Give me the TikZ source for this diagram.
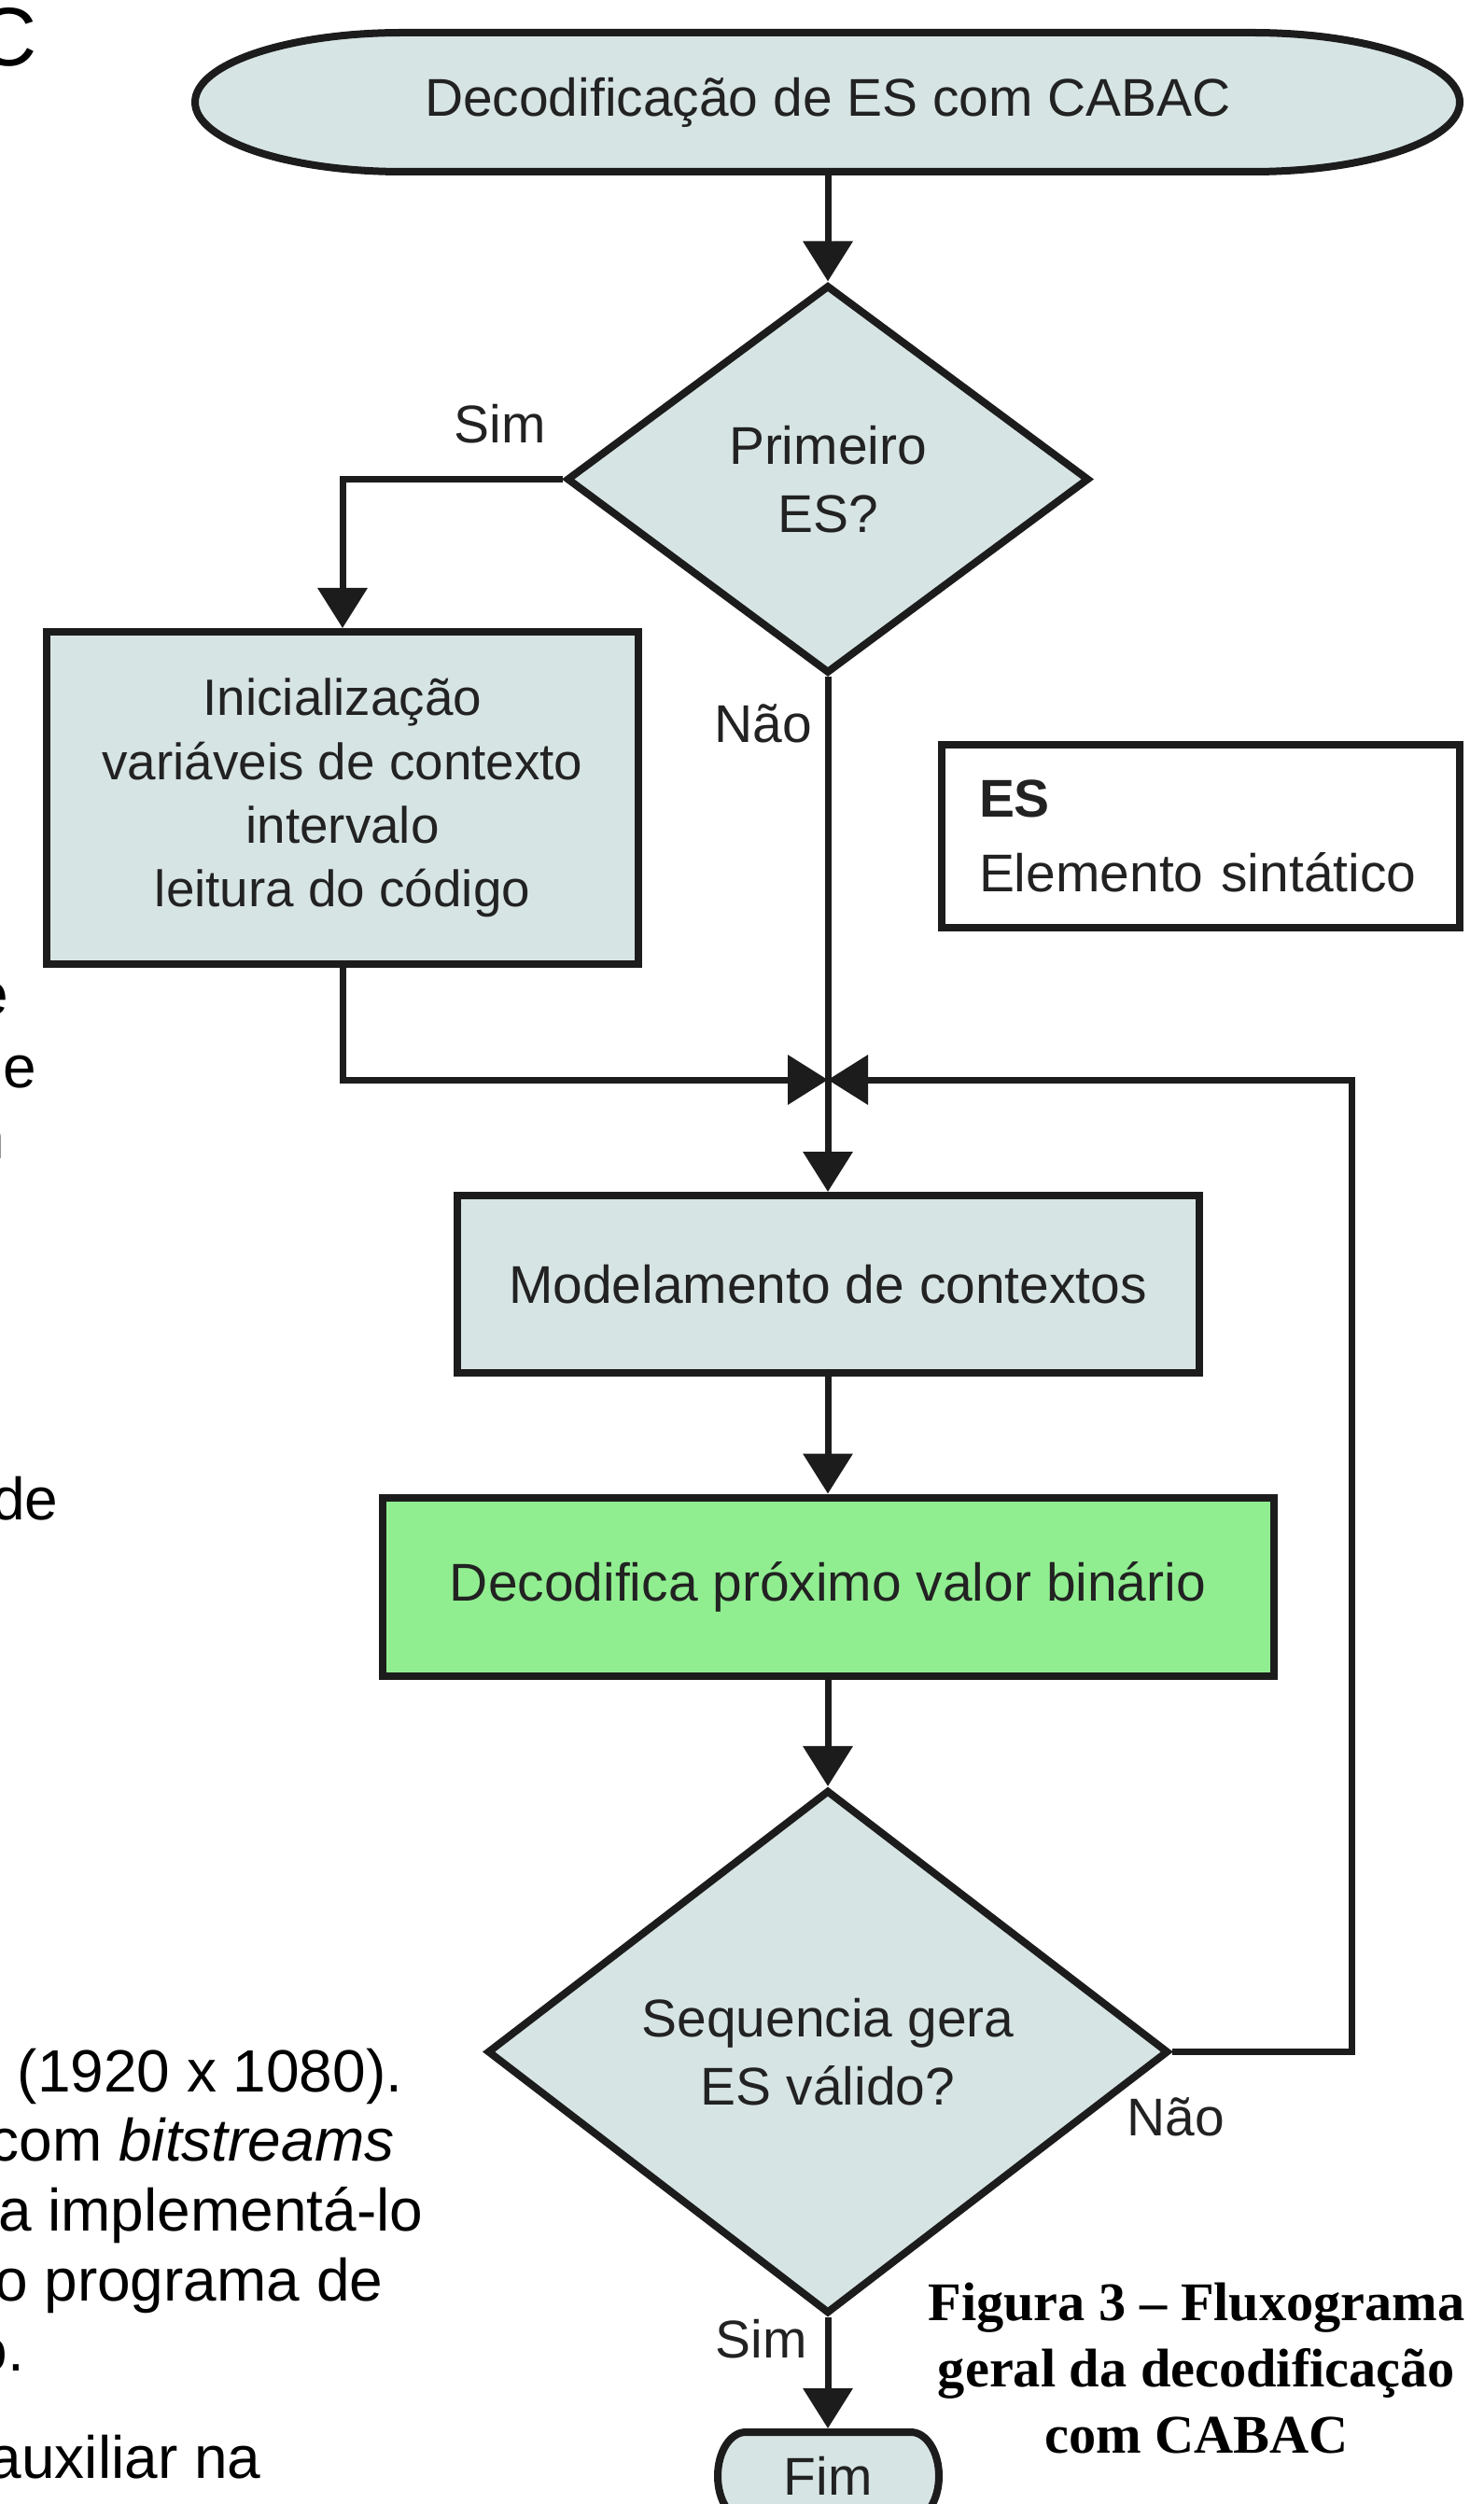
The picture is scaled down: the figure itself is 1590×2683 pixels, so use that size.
\documentclass[tikz,border=0pt]{standalone}
\usepackage{fontspec}
\setmainfont{Liberation Sans}
\newfontfamily\captionfont{Liberation Serif}
\usetikzlibrary{shapes.geometric,arrows.meta}

\definecolor{cellfill}{HTML}{D7E4E4}
\definecolor{binfill}{HTML}{90EE90}
\definecolor{inkline}{HTML}{1C1C1C}
\definecolor{inktext}{HTML}{222222}

\tikzset{
  block/.style={draw=inkline, line width=0.8mm, fill=cellfill, inner sep=0pt, outer sep=0.4mm,
    align=center, text=inktext, font=\fontsize{16.2}{19.4}\selectfont},
  question/.style={block, diamond, font=\fontsize{16.2}{20.8}\selectfont},
  outline/.style={draw=inkline, line width=0.8mm, fill=cellfill},
  flowline/.style={draw=inkline, line width=0.7mm, -{Triangle[length=4.3mm,width=5.2mm]}},
  answer/.style={text=inktext, inner sep=0pt, font=\fontsize{16.2}{19.4}\selectfont},
  pagetext/.style={anchor=base east, inner sep=0pt, font=\fontsize{18.2}{22}\selectfont}
}

\begin{document}
\begin{tikzpicture}[x=0.1mm, y=-0.1mm]
    \useasboundingbox (0,0) rectangle (1590,2683);
    \clip (0,0) rectangle (1590,2683);
    % text of the page, cut at the left edge
    \node [pagetext, font=\fontsize{25.3}{30}\selectfont] (head) at (40,71) {C};
    \node [pagetext] (frag1) at (10,1087) {e};
    \node [pagetext] (frag2) at (40,1165) {ie};
    \node [pagetext] (frag3) at (6,1241) {n};
    \node [pagetext] (frag4) at (63,1628) {de};
    \node [pagetext] (frag5) at (432,2241) {(1920 x 1080).};
    \node [pagetext] (frag6) at (423,2315) {com \textit{bitstreams}};
    \node [pagetext] (frag7) at (454,2390) {a implementá-lo};
    \node [pagetext] (frag8) at (411,2465) {o programa de};
    \node [pagetext] (frag9) at (27,2540) {o.};
    \node [pagetext] (frag10) at (280,2655) {auxiliar na};

    % terminals
    \path[outline] (431,35) -- (1342,35)
        arc[start angle=-90, end angle=90, x radius=222, y radius=74.5]
        -- (431,184) arc[start angle=90, end angle=270, x radius=222, y radius=74.5] -- cycle;
    \node [answer, minimum width=135.5mm, minimum height=14.9mm, outer sep=0.4mm] (start) at (887,109.5)
        {Decodificação de ES com CABAC};
    \path[outline] (799,2606) -- (976,2606)
        arc[start angle=-90, end angle=90, x radius=30, y radius=47]
        -- (799,2700) arc[start angle=90, end angle=270, x radius=30, y radius=47] -- cycle;
    \node [answer, minimum width=23.7mm, minimum height=9.4mm, outer sep=0.4mm] (fim) at (887,2653) {Fim};

    % steps
    \node [question, minimum width=56mm, minimum height=41.6mm] (first) at (887,513.5) {Primeiro\\ES?};
    \node [block, minimum width=63.4mm, minimum height=35.6mm, font=\fontsize{15.6}{19.4}\selectfont] (init)
        at (367,855) {Inicialização\\variáveis de contexto\\intervalo\\leitura do código};
    \node [block, fill=white, minimum width=55.5mm, minimum height=19.6mm, text width=47.5mm,
        inner xsep=4mm, align=left, font=\fontsize{16.2}{22.8}\selectfont] (legend) at (1286.5,896)
        {\textbf{ES}\\Elemento sintático};
    \node [block, minimum width=79.5mm, minimum height=19mm] (model) at (887,1376) {Modelamento de contextos};
    \node [block, fill=binfill, minimum width=95.5mm, minimum height=19.1mm] (decode) at (887,1700)
        {Decodifica próximo valor binário};
    \node [question, minimum width=73mm, minimum height=56.1mm] (valid) at (887,2198.5)
        {Sequencia gera\\ES válido?};

    \coordinate (join) at (887,1157);
    \coordinate (back) at (1448,1157);

    % connectors
    \draw[flowline] (start) -- (first);
    \draw[flowline] (first.west) -| (init.north);
    \draw[flowline] (first.south) -- (model.north);
    \draw[flowline] (init.south) |- (join);
    \draw[flowline] (model) -- (decode);
    \draw[flowline] (decode) -- (valid);
    \draw[flowline] (valid.east) -| (back) -- (join);
    \draw[flowline] (valid.south) -- (fim.north);

    % answers
    \node [answer] (yes1) at (536,454) {Sim};
    \node [answer] (no1) at (818,775) {Não};
    \node [answer] (no2) at (1260,2268) {Não};
    \node [answer] (yes2) at (816,2506) {Sim};

    % caption
    \node [align=center, inner sep=0pt, font=\captionfont\bfseries\fontsize{16.6}{20.2}\selectfont] (caption)
        at (1282,2538) {Figura 3 – Fluxograma\\geral da decodificação\\com CABAC};
\end{tikzpicture}
\end{document}
